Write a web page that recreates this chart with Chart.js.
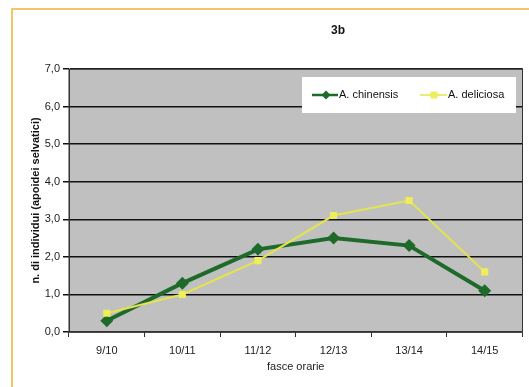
<!DOCTYPE html>
<html>
<head>
<meta charset="utf-8">
<script src="https://cdn.jsdelivr.net/npm/chart.js@4/dist/chart.umd.min.js"></script>
<style>
    html, body { margin: 0; padding: 0; background: #fff; }
    #wrap { width: 529px; height: 387px; }
</style>
</head>
<body>
<div id="wrap"><canvas id="canva"></canvas></div>
<script>
const fasce = ['9/10', '10/11', '11/12', '12/13', '13/14', '14/15'];
const chinensis = [0.3, 1.3, 2.2, 2.5, 2.3, 1.1];
const deliciosa = [0.5, 1.0, 1.9, 3.1, 3.5, 1.6];
const titolo = '3b';
const nomi = ['A. chinensis', 'A. deliciosa'];

const VERDE = '#1d6a2b';
const GIALLO = '#e4e44c';
const GIALLO_PUNTO = '#eeee5a';

// white page, orange frame and grey plot background
const sfondo = {
    id: 'sfondo',
    beforeDraw(chart) {
        const { ctx, chartArea: a } = chart;
        ctx.save();
        ctx.fillStyle = '#fff';
        ctx.fillRect(0, 0, chart.width, chart.height);
        ctx.strokeStyle = '#f0b338';
        ctx.lineWidth = 1.5;
        ctx.beginPath();
        ctx.moveTo(12, chart.height);
        ctx.lineTo(12, 9);
        ctx.lineTo(chart.width, 9);
        ctx.stroke();
        ctx.fillStyle = '#c0c0c0';
        ctx.fillRect(a.left, a.top, a.right - a.left, a.bottom - a.top);
        ctx.restore();
    },
    beforeDatasetsDraw(chart) {
        const { ctx, chartArea: a } = chart;
        ctx.save();
        ctx.strokeStyle = '#333';
        ctx.lineWidth = 1;
        ctx.strokeRect(a.left, a.top, a.right - a.left, a.bottom - a.top);
        ctx.restore();
    },
    afterDraw(chart) {
        const { ctx } = chart;
        ctx.save();
        // title
        ctx.fillStyle = '#111';
        ctx.font = 'bold 12px "Liberation Sans", Arial, sans-serif';
        ctx.textAlign = 'center';
        ctx.textBaseline = 'middle';
        ctx.fillText(titolo, 338, 31);

        // legend box
        ctx.fillStyle = '#fff';
        ctx.fillRect(302, 77, 214, 36);
        ctx.textAlign = 'left';
        ctx.font = '11px "Liberation Sans", Arial, sans-serif';
        const y = 95;

        ctx.strokeStyle = VERDE;
        ctx.lineWidth = 2.5;
        ctx.beginPath();
        ctx.moveTo(312, y);
        ctx.lineTo(338, y);
        ctx.stroke();
        ctx.fillStyle = VERDE;
        ctx.beginPath();
        ctx.moveTo(326, y - 4.5);
        ctx.lineTo(330.5, y);
        ctx.lineTo(326, y + 4.5);
        ctx.lineTo(321.5, y);
        ctx.closePath();
        ctx.fill();
        ctx.fillStyle = '#111';
        ctx.fillText(nomi[0], 339, y);

        ctx.strokeStyle = GIALLO;
        ctx.lineWidth = 1.5;
        ctx.beginPath();
        ctx.moveTo(420, y);
        ctx.lineTo(447, y);
        ctx.stroke();
        ctx.fillStyle = GIALLO_PUNTO;
        ctx.fillRect(430.5, y - 3.5, 7, 7);
        ctx.fillStyle = '#111';
        ctx.fillText(nomi[1], 448, y);
        ctx.restore();
    }
};

const canvas = document.querySelector('#canva').getContext('2d');
new Chart(canvas, {
    type: 'line',
    data: {
        labels: fasce,
        datasets: [
            {
                label: nomi[0],
                data: chinensis,
                borderColor: VERDE,
                backgroundColor: VERDE,
                borderWidth: 4,
                pointStyle: 'rectRot',
                pointRadius: 6.5,
                pointBorderWidth: 0,
                order: 2,
            },
            {
                label: nomi[1],
                data: deliciosa,
                borderColor: GIALLO,
                backgroundColor: GIALLO_PUNTO,
                borderWidth: 2,
                pointStyle: 'rect',
                pointRadius: 5,
                pointBorderWidth: 0,
                order: 1,
            },
        ],
    },
    options: {
        responsive: true,
        maintainAspectRatio: false,
        animation: false,
        layout: {
            padding: { left: 25, right: 5, top: 69, bottom: 9 },
        },
        scales: {
            x: {
                offset: true,
                grid: {
                    offset: true,
                    drawOnChartArea: false,
                    color: '#333',
                    tickLength: 5,
                },
                border: { color: '#333', width: 1.5 },
                ticks: {
                    color: '#222',
                    padding: 7,
                    font: { family: '"Liberation Sans", Arial, sans-serif', size: 11 },
                },
                title: {
                    display: true,
                    text: 'fasce orarie',
                    color: '#222',
                    padding: { top: 2, bottom: 4 },
                    font: { family: '"Liberation Sans", Arial, sans-serif', size: 11 },
                },
                afterFit(scale) {
                    scale.height = 46;
                },
            },
            y: {
                min: 0,
                max: 7,
                grid: {
                    color: '#111',
                    lineWidth: 1.5,
                    tickLength: 6,
                },
                border: { color: '#333', width: 1 },
                ticks: {
                    stepSize: 1,
                    color: '#222',
                    padding: 3,
                    font: { family: '"Liberation Sans", Arial, sans-serif', size: 11 },
                    callback: (v) => v.toFixed(1).replace('.', ','),
                },
                title: {
                    display: true,
                    text: 'n. di individui (apoidei selvatici)',
                    color: '#111',
                    padding: { top: 4, bottom: 4 },
                    font: { family: '"Liberation Sans", Arial, sans-serif', size: 11, weight: 'bold' },
                },
                afterFit(scale) {
                    scale.width = 44;
                },
            },
        },
        plugins: {
            legend: { display: false },
            title: { display: false },
            tooltip: { enabled: false },
        },
    },
    plugins: [sfondo],
});
</script>
</body>
</html>
